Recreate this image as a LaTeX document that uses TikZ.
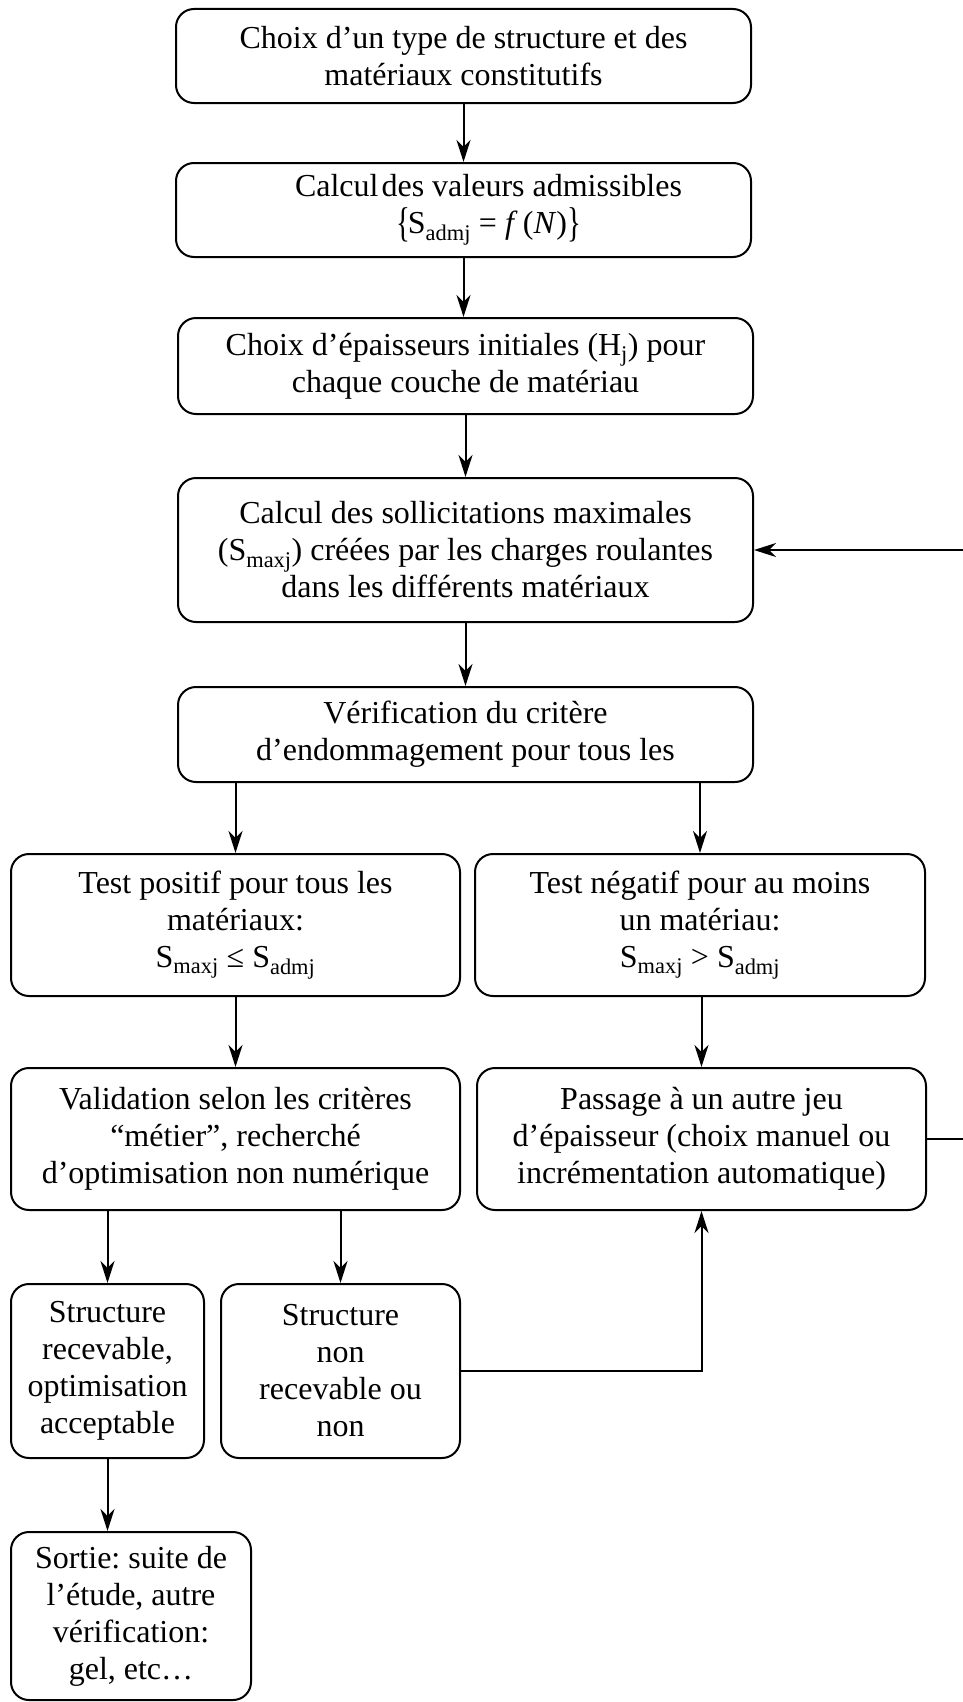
\documentclass[tikz,border=0pt]{standalone}
\usepackage{graphicx}
\usepackage{fontspec}
\setmainfont{Liberation Serif}
\usetikzlibrary{arrows.meta}
\newcommand{\Sub}[2]{#1\textsubscript{#2}}
\newcommand{\TallBrace}[1]{\raisebox{-3pt}{\scalebox{0.9}[1.3]{#1}}}
\frenchspacing
\begin{document}
\begin{tikzpicture}[x=1pt,y=-1pt,
  stepbox/.style={draw, line width=2pt, rounded corners=18pt, align=center,
    inner sep=0pt, font=\fontsize{32}{37}\selectfont},
  link/.style={line width=2pt},
  arr/.style={link, -{Stealth[length=22pt,width=14pt,inset=7pt]}}]
\useasboundingbox (0,0) rectangle (963,1702);

% main column
\node[stepbox, minimum width=575pt, minimum height=94pt] (b1) at (463.5,56)
  {Choix d’un type de structure et des\\matériaux constitutifs};
\node[stepbox, minimum width=575pt, minimum height=94pt] (b2) at (463.5,210)
  {\hspace*{50pt}Calcul\hspace{3pt}des valeurs admissibles\\
   \hspace*{50pt}\TallBrace{\{}\kern-2pt\Sub{S}{admj} = \textit{f}\,(\textit{N})\TallBrace{\}}};
\node[stepbox, minimum width=575pt, minimum height=96pt] (b3) at (465.5,366)
  {Choix d’épaisseurs initiales (\Sub{H}{j}) pour\\chaque couche de matériau};
\node[stepbox, minimum width=575pt, minimum height=144pt] (b4) at (465.5,550)
  {Calcul des sollicitations maximales\\(\Sub{S}{maxj}) créées par les charges roulantes\\dans les différents matériaux};
\node[stepbox, minimum width=575pt, minimum height=95pt] (b5) at (465.5,734.5)
  {Vérification du critère\\d’endommagement pour tous les};

% test outcomes
\node[stepbox, minimum width=449pt, minimum height=142pt] (b6) at (235.5,925)
  {Test positif pour tous les\\matériaux:\\\Sub{S}{maxj} ≤ \Sub{S}{admj}};
\node[stepbox, minimum width=450pt, minimum height=142pt] (b7) at (700,925)
  {Test négatif pour au moins\\un matériau:\\\Sub{S}{maxj} > \Sub{S}{admj}};
\node[stepbox, minimum width=449pt, minimum height=142pt] (b8) at (235.5,1139)
  {Validation selon les critères\\“métier”, recherché\\d’optimisation non numérique};
\node[stepbox, minimum width=449pt, minimum height=142pt] (b9) at (701.5,1139)
  {Passage à un autre jeu\\d’épaisseur (choix manuel ou\\incrémentation automatique)};

% final decisions
\node[stepbox, minimum width=193pt, minimum height=174pt] (b10) at (107.5,1371)
  {Structure\\recevable,\\optimisation\\acceptable};
\node[stepbox, minimum width=239pt, minimum height=174pt] (b11) at (340.5,1371)
  {Structure\\non\\recevable ou\\non};
\node[stepbox, minimum width=240pt, minimum height=168pt] (b12) at (131,1616)
  {Sortie: suite de\\l’étude, autre\\vérification:\\gel, etc…};

% helper coordinates
\coordinate (loopA) at (968,1139);
\coordinate (loopB) at (968,550);

% connectors
\draw[arr] (b1.south) -- (b1.south |- b2.north);
\draw[arr] (b2.south) -- (b2.south |- b3.north);
\draw[arr] (b3.south) -- (b3.south |- b4.north);
\draw[arr] (b4.south) -- (b4.south |- b5.north);
\draw[arr] (b5.south -| b6.north) -- (b6.north);
\draw[arr] (b5.south -| b7.north) -- (b7.north);
\draw[arr] (b6.south) -- (b8.north);
\draw[arr] (b7.south -| b9.north) -- (b9.north);
\draw[arr] (b8.south -| b10.north) -- (b10.north);
\draw[arr] (b8.south -| b11.north) -- (b11.north);
\draw[arr] (b10.south) -- (b10.south |- b12.north);
\draw[arr] (b11.east) -| (b9.south);
\draw[link] (b9.east) -- (loopA) -- (loopB);
\draw[arr] (loopB) -- (b4.east);
\end{tikzpicture}
\end{document}
